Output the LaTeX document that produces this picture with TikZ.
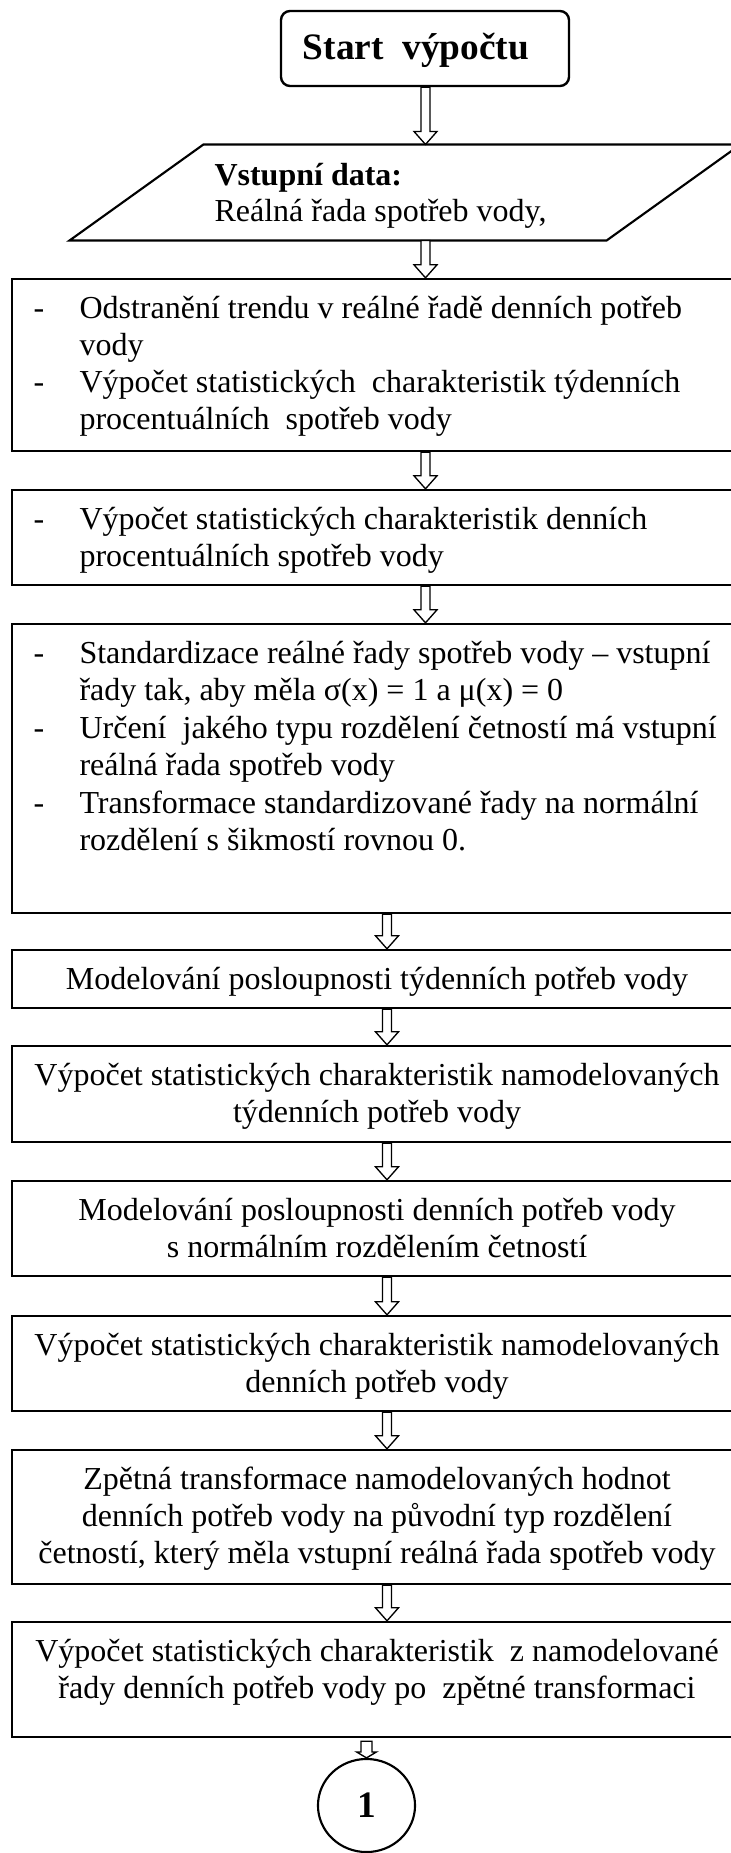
\documentclass[tikz,border=0pt]{standalone}
\usepackage{fontspec}
\setmainfont{Liberation Serif}
\usetikzlibrary{calc,fit,shapes.geometric}
\newcommand\blockarrow[5]{%
  \draw[hollow] ($(#2.south -| #1)+(-#4,0)$) -- ($(#3.north -| #1)+(-#4,-13)$)
    -- ($(#3.north -| #1)+(-#5,-13)$) -- (#3.north -| #1)
    -- ($(#3.north -| #1)+(#5,-13)$) -- ($(#3.north -| #1)+(#4,-13)$)
    -- ($(#2.south -| #1)+(#4,0)$) -- cycle;}
\begin{document}
\begin{tikzpicture}[x=0.375pt,y=-0.375pt,
  boxstyle/.style={draw,line width=0.9pt,inner sep=0pt},
  startbox/.style={boxstyle,rounded corners=3.4pt},
  txt/.style={inner sep=0pt,anchor=base west,font=\fontsize{12}{13.8}\selectfont},
  ctxt/.style={txt,anchor=base},
  btxt/.style={txt,font=\fontsize{12}{13.8}\selectfont\bfseries},
  hollow/.style={draw,line width=0.5pt,fill=white,line join=miter},
  conn/.style={draw,ellipse,line width=0.8pt,inner sep=0pt,minimum width=36.4pt,minimum height=34.9pt,font=\fontsize{14}{16}\selectfont\bfseries}
]
\useasboundingbox (0,0) rectangle (731,1853);
\clip (0,0) rectangle (731,1853);
\fill[white] (0,0) rectangle (731,1853);

\coordinate (colA) at (425.5,0);
\coordinate (colB) at (387,0);
\coordinate (colC) at (366.5,0);

% start
\node[startbox,fit={(281,11) (569,86)}] (start) {};
\node[ctxt,font=\fontsize{14}{16}\selectfont\bfseries] (tstart) at (416,59) {Start\ \ výpočtu};

% input data
\node[inner sep=0pt,fit={(70,145) (740,240)}] (data) {};
\draw[line width=0.8pt] (data.south west) -- ($(data.north west)+(134,0)$) -- (data.north east)
  -- ($(data.south east)+(-134,0)$) -- cycle;
\node[btxt] (tdata1) at (214,185) {Vstupní data:};
\node[txt] (tdata2) at (214,221) {Reálná řada spotřeb vody,};

% box 3
\node[boxstyle,fit={(12,279) (743,451)}] (b3) {};
\node[txt] (d3a) at (33,318) {-};
\node[txt] (t3a) at (79,318) {Odstranění trendu v reálné řadě denních potřeb};
\node[txt] (t3b) at (79,355) {vody};
\node[txt] (d3c) at (33,392) {-};
\node[txt] (t3c) at (79,392) {Výpočet statistických~ charakteristik týdenních};
\node[txt] (t3d) at (79,429) {procentuálních~ spotřeb vody};

% box 4
\node[boxstyle,fit={(12,490) (743,585)}] (b4) {};
\node[txt] (d4a) at (33,529) {-};
\node[txt] (t4a) at (79,529) {Výpočet statistických charakteristik denních};
\node[txt] (t4b) at (79,566) {procentuálních spotřeb vody};

% box 5
\node[boxstyle,fit={(12,624) (743,913)}] (b5) {};
\node[txt] (d5a) at (33,663.5) {-};
\node[txt] (t5a) at (79,663.5) {Standardizace reálné řady spotřeb vody – vstupní};
\node[txt] (t5b) at (79,700.9) {řady tak, aby měla σ(x) = 1 a μ(x) = 0};
\node[txt] (d5c) at (33,738.3) {-};
\node[txt] (t5c) at (79,738.3) {Určení~ jakého typu rozdělení četností má vstupní};
\node[txt] (t5d) at (79,775.7) {reálná řada spotřeb vody};
\node[txt] (d5e) at (33,813.1) {-};
\node[txt] (t5e) at (79,813.1) {Transformace standardizované řady na normální};
\node[txt] (t5f) at (79,850.5) {rozdělení s šikmostí rovnou 0.};

% box 6
\node[boxstyle,fit={(12,950) (743,1008)}] (b6) {};
\node[ctxt] (t6a) at (377,989) {Modelování posloupnosti týdenních potřeb vody};

% box 7
\node[boxstyle,fit={(12,1046) (743,1142)}] (b7) {};
\node[ctxt] (t7a) at (377,1085) {Výpočet statistických charakteristik namodelovaných};
\node[ctxt] (t7b) at (377,1122) {týdenních potřeb vody};

% box 8
\node[boxstyle,fit={(12,1181) (743,1276)}] (b8) {};
\node[ctxt] (t8a) at (377,1220) {Modelování posloupnosti denních potřeb vody};
\node[ctxt] (t8b) at (377,1257) {s normálním rozdělením četností};

% box 9
\node[boxstyle,fit={(12,1316) (743,1411)}] (b9) {};
\node[ctxt] (t9a) at (377,1355) {Výpočet statistických charakteristik namodelovaných};
\node[ctxt] (t9b) at (377,1392) {denních potřeb vody};

% box 10
\node[boxstyle,fit={(12,1450) (743,1584)}] (b10) {};
\node[ctxt] (t10a) at (377,1489) {Zpětná transformace namodelovaných hodnot};
\node[ctxt] (t10b) at (377,1526) {denních potřeb vody na původní typ rozdělení};
\node[ctxt] (t10c) at (377,1563) {četností, který měla vstupní reálná řada spotřeb vody};

% box 11
\node[boxstyle,fit={(12,1622) (743,1737)}] (b11) {};
\node[ctxt] (t11a) at (377,1661) {Výpočet statistických charakteristik~ z namodelované};
\node[ctxt] (t11b) at (377,1698) {řady denních potřeb vody po~ zpětné transformaci};

% connector circle
\node[conn] (c1) at (366.5,1805.5) {1};

% arrows
\blockarrow{colA}{start}{data}{4.5}{11.5}
\blockarrow{colA}{data}{b3}{4.5}{11.5}
\blockarrow{colA}{b3}{b4}{4.5}{11.5}
\blockarrow{colA}{b4}{b5}{4.5}{11.5}
\blockarrow{colB}{b5}{b6}{4.5}{11.5}
\blockarrow{colB}{b6}{b7}{4.5}{11.5}
\blockarrow{colB}{b7}{b8}{4.5}{11.5}
\blockarrow{colB}{b8}{b9}{4.5}{11.5}
\blockarrow{colB}{b9}{b10}{4.5}{11.5}
\blockarrow{colB}{b10}{b11}{4.5}{11.5}
\draw[hollow] ($(b11.south -| colC)+(-5.5,3)$) -- ($(c1.north)+(-5.5,-6)$) -- ($(c1.north)+(-10,-6)$)
  -- (c1.north) -- ($(c1.north)+(10,-6)$) -- ($(c1.north)+(5.5,-6)$) -- ($(b11.south -| colC)+(5.5,3)$) -- cycle;
\end{tikzpicture}
\end{document}
